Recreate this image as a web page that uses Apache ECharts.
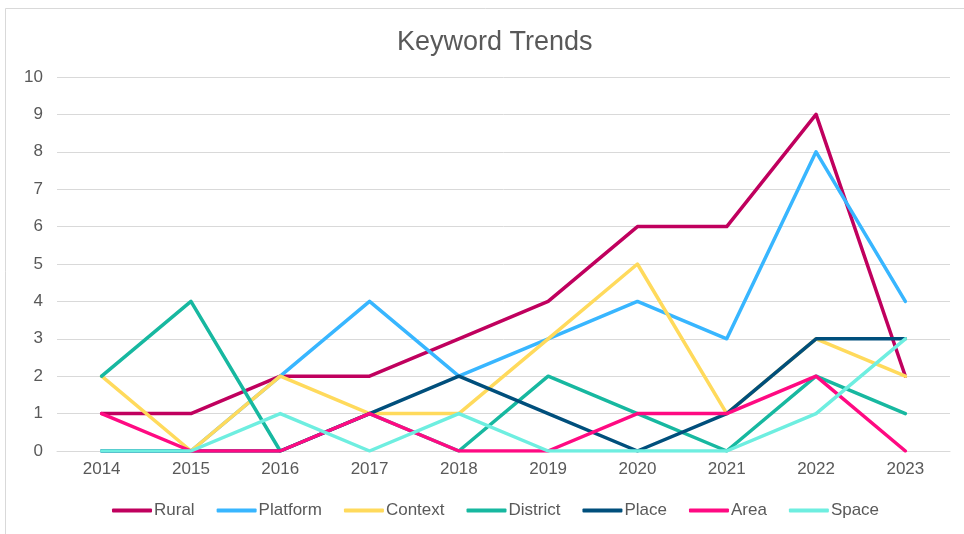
<!DOCTYPE html>
<html>
<head>
<meta charset="utf-8">
<style>
  html, body { margin: 0; padding: 0; background: #fff; }
  #chart { width: 964px; height: 534px; }
</style>
<script src="https://cdn.jsdelivr.net/npm/echarts@6/dist/echarts.min.js"></script>
</head>
<body>
<div id="chart"></div>
<script>
// Years on the category axis
const years = ['2014', '2015', '2016', '2017', '2018', '2019', '2020', '2021', '2022', '2023'];

// Keyword counts per year
const rural    = [1, 1, 2, 2, 3, 4, 6, 6, 9, 2];
const platform = [0, 0, 2, 4, 2, 3, 4, 3, 8, 4];
const context  = [2, 0, 2, 1, 1, 3, 5, 1, 3, 2];
const district = [2, 4, 0, 1, 0, 2, 1, 0, 2, 1];
const place    = [0, 0, 0, 1, 2, 1, 0, 1, 3, 3];
const area     = [1, 0, 0, 1, 0, 0, 1, 1, 2, 0];
const space    = [0, 0, 1, 0, 1, 0, 0, 0, 1, 3];

const seriesDefs = [
  { name: 'Rural',    data: rural,    color: '#C0005E' },
  { name: 'Platform', data: platform, color: '#38B6FF' },
  { name: 'Context',  data: context,  color: '#FFDA5C' },
  { name: 'District', data: district, color: '#17B8A0' },
  { name: 'Place',    data: place,    color: '#004F7C' },
  { name: 'Area',     data: area,     color: '#FF0A82' },
  { name: 'Space',    data: space,    color: '#6EEEE0' }
];

const FONT = '"Liberation Sans", Arial, sans-serif';
const TEXT = '#595959';

const chart = echarts.init(document.getElementById('chart'), null, { renderer: 'canvas' });

chart.setOption({
  backgroundColor: '#ffffff',
  animation: false,
  graphic: [{
    type: 'rect',
    shape: { x: 5.5, y: 8.5, width: 960, height: 540 },
    style: { fill: 'none', stroke: '#d9d9d9', lineWidth: 1 },
    silent: true,
    z: -1
  }],
  title: {
    text: 'Keyword Trends',
    left: 392,
    top: 24,
    textStyle: { fontFamily: FONT, fontSize: 27, fontWeight: 'normal', color: TEXT }
  },
  legend: {
    top: 497,
    left: 107,
    icon: 'roundRect',
    itemWidth: 40,
    itemHeight: 4,
    itemGap: 22,
    textStyle: { fontFamily: FONT, fontSize: 17, color: TEXT, padding: [0, 0, 0, -3] },
    data: seriesDefs.map(s => s.name)
  },
  grid: { left: 57, right: 14, top: 77, bottom: 83 },
  xAxis: {
    type: 'category',
    data: years,
    boundaryGap: true,
    axisLine: { lineStyle: { color: '#d9d9d9', width: 1 } },
    axisTick: { show: false },
    axisLabel: { fontFamily: FONT, fontSize: 17, color: TEXT, margin: 10 }
  },
  yAxis: {
    type: 'value',
    min: 0,
    max: 10,
    interval: 1,
    axisLine: { show: false },
    axisTick: { show: false },
    splitLine: { lineStyle: { color: '#d9d9d9', width: 1 } },
    axisLabel: { fontFamily: FONT, fontSize: 17, color: TEXT, margin: 14 }
  },
  series: seriesDefs.map(s => ({
    name: s.name,
    type: 'line',
    data: s.data,
    showSymbol: false,
    symbol: 'none',
    color: s.color,
    lineStyle: { color: s.color, width: 3.5, cap: 'round', join: 'round' }
  }))
});
</script>
</body>
</html>
